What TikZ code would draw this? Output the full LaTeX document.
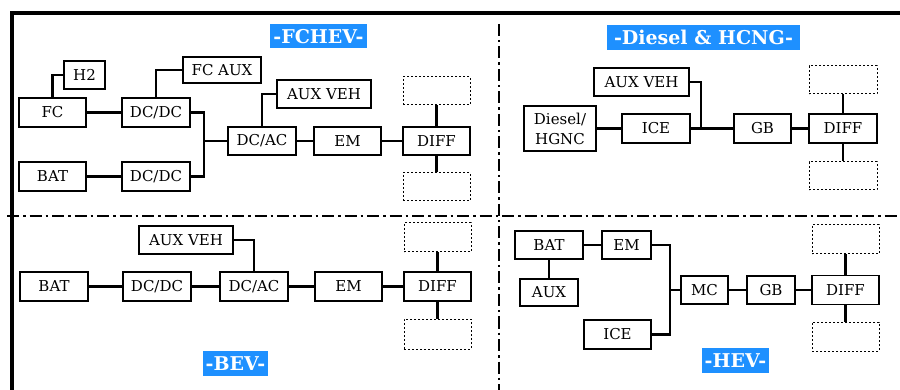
\documentclass[tikz,border=0pt]{standalone}
\usepackage{fontspec}
\setmainfont{DejaVu Serif}
\definecolor{titleblue}{RGB}{30,144,255}
\begin{document}
\begin{tikzpicture}[x=1pt,y=-1pt,
 box/.style={draw,line width=1.1pt,inner sep=0pt,font=\fontsize{15}{20}\selectfont},
 ghost/.style={draw,line width=1pt,dash pattern=on 2pt off 2pt,inner sep=0pt},
 link/.style={line width=2.4pt},
 ttl/.style={fill=titleblue,text=white,inner sep=0pt,font=\fontsize{19}{22}\selectfont\bfseries},
 sepline/.style={line width=2.6pt,dash pattern=on 12pt off 4pt on 2.5pt off 4pt},
 frameline/.style={line width=3.5pt}]
\useasboundingbox (0,0) rectangle (900,390);
% frame and separators
\coordinate (ftl) at (12,13);
\coordinate (ftr) at (900,13);
\coordinate (fbl) at (12,390);
\draw[frameline] (ftr) -- (ftl) -- (fbl);
\coordinate (hs) at (7,216);
\coordinate (he) at (900,216);
\coordinate (vs) at (499,24);
\coordinate (ve) at (499,390);
\draw[sepline] (hs) -- (he);
\draw[sepline] (vs) -- (ve);

% ---------- FCHEV ----------
\node[ttl,minimum width=97,minimum height=24] (t1) at (318.5,36.5) {-FCHEV-};
\node[box,minimum width=41,minimum height=28] (h2) at (84.5,75) {H2};
\node[box,minimum width=67,minimum height=29] (fc) at (52.5,112.5) {FC};
\node[box,minimum width=68,minimum height=29] (dcdc1) at (156,112.5) {DC/DC};
\node[box,minimum width=78,minimum height=26] (fcaux) at (222,70) {FC AUX};
\node[box,minimum width=94,minimum height=28] (auxveh1) at (324,94) {AUX VEH};
\node[box,minimum width=68,minimum height=28] (dcac1) at (262,141) {DC/AC};
\node[box,minimum width=67,minimum height=28] (em1) at (347.5,141) {EM};
\node[box,minimum width=67,minimum height=28] (diff1) at (436.5,141) {DIFF};
\node[ghost,minimum width=67,minimum height=28] (g1t) at (436.5,91) {};
\node[ghost,minimum width=67,minimum height=28] (g1b) at (436.5,187) {};
\node[box,minimum width=67,minimum height=29] (bat1) at (52.5,176.5) {BAT};
\node[box,minimum width=68,minimum height=29] (dcdc2) at (156,176.5) {DC/DC};
\coordinate (j1) at (204,141);
\draw[link] (fc.north) |- (h2.west);
\draw[link] (fc.east) -- (dcdc1.west);
\draw[link] (dcdc1.north) |- (fcaux.west);
\draw[link] (bat1.east) -- (dcdc2.west);
\draw[link] (dcdc1.east) -| (j1) |- (dcdc2.east);
\draw[link] (j1) -- (dcac1.west);
\draw[link] (dcac1.north) |- (auxveh1.west);
\draw[link] (dcac1.east) -- (em1.west);
\draw[link] (em1.east) -- (diff1.west);
\draw[link] (g1t.south) -- (diff1.north);
\draw[link] (diff1.south) -- (g1b.north);

% ---------- Diesel & HCNG ----------
\node[ttl,minimum width=193,minimum height=25] (t2) at (703.5,37.5) {-Diesel \& HCNG-};
\node[box,minimum width=95,minimum height=28] (auxveh2) at (641.5,82) {AUX VEH};
\node[box,minimum width=72,minimum height=45,align=center] (diesel) at (560,128.5) {Diesel/\\HGNC};
\node[box,minimum width=68,minimum height=29] (ice2) at (656,128.5) {ICE};
\node[box,minimum width=57,minimum height=29] (gb2) at (762.5,128.5) {GB};
\node[box,minimum width=68,minimum height=29] (diff2) at (843,128.5) {DIFF};
\node[ghost,minimum width=68,minimum height=28] (g2t) at (843,80) {};
\node[ghost,minimum width=68,minimum height=28] (g2b) at (843,176) {};
\coordinate (j2) at (701,128.5);
\draw[link] (diesel.east) -- (ice2.west);
\draw[link] (ice2.east) -- (gb2.west);
\draw[link] (auxveh2.east) -| (j2);
\draw[link] (gb2.east) -- (diff2.west);
\draw[link] (g2t.south) -- (diff2.north);
\draw[link] (diff2.south) -- (g2b.north);

% ---------- BEV ----------
\node[ttl,minimum width=65,minimum height=25] (t3) at (235.5,363.5) {-BEV-};
\node[box,minimum width=94,minimum height=28] (auxveh3) at (186,240) {AUX VEH};
\node[box,minimum width=68,minimum height=29] (bat3) at (54,286.5) {BAT};
\node[box,minimum width=68,minimum height=29] (dcdc3) at (157,286.5) {DC/DC};
\node[box,minimum width=68,minimum height=29] (dcac3) at (254,286.5) {DC/AC};
\node[box,minimum width=67,minimum height=29] (em3) at (348.5,286.5) {EM};
\node[box,minimum width=67,minimum height=29] (diff3) at (437.5,286.5) {DIFF};
\node[ghost,minimum width=67,minimum height=29] (g3t) at (437.5,237.5) {};
\node[ghost,minimum width=67,minimum height=30] (g3b) at (437.5,334) {};
\draw[link] (bat3.east) -- (dcdc3.west);
\draw[link] (dcdc3.east) -- (dcac3.west);
\draw[link] (auxveh3.east) -| (dcac3.north);
\draw[link] (dcac3.east) -- (em3.west);
\draw[link] (em3.east) -- (diff3.west);
\draw[link] (g3t.south) -- (diff3.north);
\draw[link] (diff3.south) -- (g3b.north);

% ---------- HEV ----------
\node[ttl,minimum width=67,minimum height=25] (t4) at (735.5,360.5) {-HEV-};
\node[box,minimum width=68,minimum height=28] (bat4) at (549,245) {BAT};
\node[box,minimum width=49,minimum height=28] (em4) at (626.5,245) {EM};
\node[box,minimum width=58,minimum height=27] (aux4) at (549,292.5) {AUX};
\node[box,minimum width=67,minimum height=29] (ice4) at (617.5,334.5) {ICE};
\node[box,minimum width=47,minimum height=28] (mc4) at (704.5,290) {MC};
\node[box,minimum width=48,minimum height=28] (gb4) at (771,290) {GB};
\node[box,minimum width=67,minimum height=29] (diff4) at (845.5,290) {DIFF};
\node[ghost,minimum width=67,minimum height=29] (g4t) at (845.5,239.5) {};
\node[ghost,minimum width=67,minimum height=29] (g4b) at (845.5,336.5) {};
\coordinate (j4) at (670,290);
\draw[link] (bat4.east) -- (em4.west);
\draw[link] (bat4.south) -- (aux4.north);
\draw[link] (em4.east) -| (j4) |- (ice4.east);
\draw[link] (j4) -- (mc4.west);
\draw[link] (mc4.east) -- (gb4.west);
\draw[link] (gb4.east) -- (diff4.west);
\draw[link] (g4t.south) -- (diff4.north);
\draw[link] (diff4.south) -- (g4b.north);
\end{tikzpicture}
\end{document}
